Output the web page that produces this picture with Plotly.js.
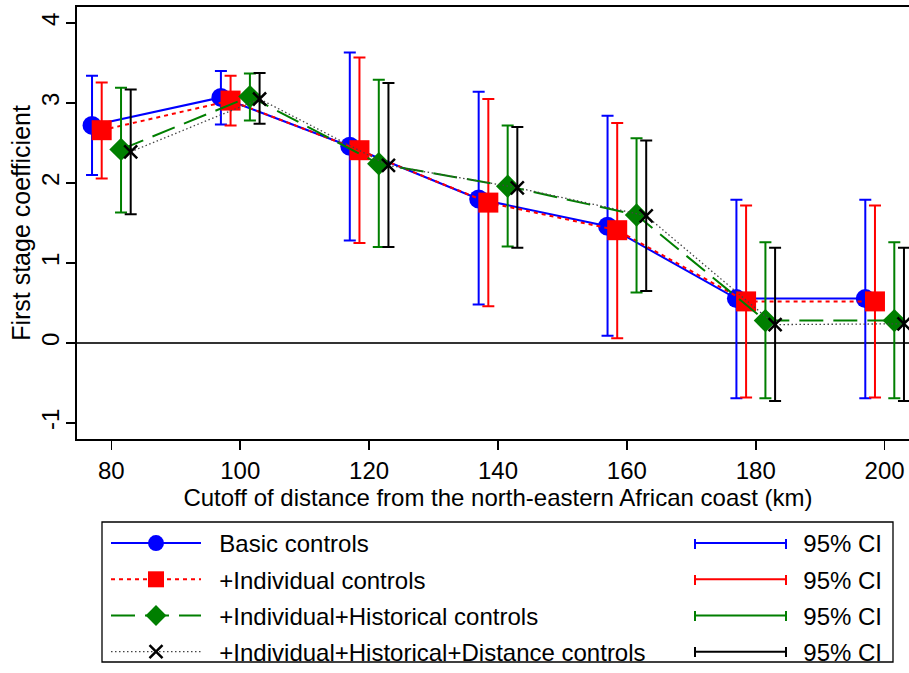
<!DOCTYPE html>
<html>
<head>
<meta charset="utf-8">
<script src="https://cdn.plot.ly/plotly-3.0.1.min.js"></script>
<style>
html, body { margin: 0; padding: 0; overflow: hidden; background: #fff; }
#chart { width: 935px; height: 673px; }
</style>
</head>
<body>
<div id="chart"></div>
<script>
// ---- data ----
const cutoffs = [80, 100, 120, 140, 160, 180, 200];
const tickLabels = ['80', '100', '120', '140', '160', '180', '200'];

const basicCoef = [2.72, 3.07, 2.46, 1.80, 1.46, 0.555, 0.555];
const basicLo   = [2.10, 2.73, 1.28, 0.48, 0.09, -0.69, -0.69];
const basicHi   = [3.34, 3.40, 3.63, 3.14, 2.84, 1.79, 1.79];

const indivCoef = [2.66, 3.03, 2.41, 1.755, 1.41, 0.52, 0.52];
const indivLo   = [2.055, 2.72, 1.25, 0.46, 0.06, -0.68, -0.68];
const indivHi   = [3.255, 3.34, 3.57, 3.05, 2.75, 1.72, 1.72];

const histCoef  = [2.42, 3.08, 2.24, 1.96, 1.60, 0.28, 0.28];
const histLo    = [1.63, 2.78, 1.20, 1.205, 0.63, -0.69, -0.69];
const histHi    = [3.19, 3.37, 3.29, 2.72, 2.56, 1.26, 1.26];

const distCoef  = [2.39, 3.05, 2.22, 1.94, 1.59, 0.23, 0.24];
const distLo    = [1.61, 2.74, 1.20, 1.19, 0.65, -0.725, -0.725];
const distHi    = [3.17, 3.375, 3.25, 2.70, 2.53, 1.19, 1.19];

const seriesNames = [
  'Basic controls',
  '+Individual controls',
  '+Individual+Historical controls',
  '+Individual+Historical+Distance controls'
];
const ciLabel = '95% CI';

// ---- styling ----
const FONT = "'Liberation Sans', Arial, Helvetica, sans-serif";
const W = 935, H = 673;
const GAP = '\u00a0\u00a0';
const offsets = [-3, -1.5, 1.5, 3];
const colors = ['#0000ff', '#ff0000', '#007f00', '#000000'];
const lineStyles = [
  {color: '#0000ff', width: 2, dash: 'solid'},
  {color: '#ff0000', width: 2, dash: '4px,4px'},
  {color: '#007f00', width: 2, dash: '24px,10px'},
  {color: '#444444', width: 1.3, dash: '1.5px,2.5px'}
];
const markers = [
  {symbol: 'circle', size: 19, color: '#0000ff'},
  {symbol: 'square', size: 20, color: '#ff0000'},
  {symbol: 'diamond', size: 18, color: '#007f00'},
  {symbol: 'x-thin', size: 13, color: '#000000', line: {color: '#000000', width: 2.5}}
];

const coefs = [basicCoef, indivCoef, histCoef, distCoef];
const los = [basicLo, indivLo, histLo, distLo];
const his = [basicHi, indivHi, histHi, distHi];

const traces = [];
for (let s = 0; s < 4; s++) {
  const xs = cutoffs.map(c => c + offsets[s]);
  traces.push({
    type: 'scatter', mode: 'lines+markers',
    x: xs, y: coefs[s],
    name: GAP + seriesNames[s],
    legend: 'legend', legendgroup: 'm' + s,
    line: lineStyles[s],
    marker: markers[s],
    error_y: {
      type: 'data', symmetric: false,
      array: his[s].map((h, i) => h - coefs[s][i]),
      arrayminus: los[s].map((l, i) => coefs[s][i] - l),
      color: colors[s], thickness: 2, width: 6
    },
    cliponaxis: true
  });
}
// legend-only entries for the confidence intervals
for (let s = 0; s < 4; s++) {
  traces.push({
    type: 'scatter', mode: 'lines',
    x: [null], y: [null],
    name: GAP + ciLabel,
    legend: 'legend2', legendgroup: 'c' + s,
    line: {color: colors[s], width: 2},
    hoverinfo: 'skip'
  });
}

const plotL = 77, plotR = 919, plotT = 7, plotB = 439;
const pw = plotR - plotL, ph = plotB - plotT;
const boxL = 102, boxR = 893, boxT = 522, boxB = 662;
const legTop = 521;
const rowY0 = 544, rowStep = 36;   // legend row centres (px)
const capX = [695, 786];           // CI legend cap positions (px)

const px2x = p => (p - plotL) / pw;
const px2y = p => (plotB - p) / ph;

const shapes = [{
  type: 'rect', xref: 'paper', yref: 'paper',
  x0: px2x(boxL), x1: px2x(boxR), y0: px2y(boxB), y1: px2y(boxT),
  line: {color: '#000', width: 1.3}, fillcolor: 'rgba(0,0,0,0)', layer: 'below'
}];
for (let s = 0; s < 4; s++) {
  const yc = rowY0 + rowStep * s;
  capX.forEach(cx => shapes.push({
    type: 'line', xref: 'paper', yref: 'paper',
    x0: px2x(cx), x1: px2x(cx), y0: px2y(yc - 5), y1: px2y(yc + 5),
    line: {color: colors[s], width: 2}
  }));
}

const layout = {
  width: W, height: H,
  margin: {l: plotL, r: W - plotR, t: plotT, b: H - plotB, pad: 0, autoexpand: false},
  paper_bgcolor: '#ffffff', plot_bgcolor: '#ffffff',
  font: {family: FONT, color: '#000000', size: 24},
  showlegend: true,
  xaxis: {
    range: [74.667, 205.333],
    tickmode: 'array', tickvals: cutoffs, ticktext: tickLabels,
    ticks: 'outside', ticklen: 9, tickwidth: 1.5, tickcolor: '#000',
    showline: true, linecolor: '#000', linewidth: 2, mirror: true,
    showgrid: false, zeroline: false,
    tickfont: {family: FONT, size: 24},
    title: {text: 'Cutoff of distance from the north-eastern African coast (km)', font: {family: FONT, size: 24}, standoff: 1},
    automargin: false
  },
  yaxis: {
    range: [-1.2, 4.2],
    tickmode: 'array', tickvals: [-1, 0, 1, 2, 3, 4], ticktext: ['-1', '0', '1', '2', '3', '4'],
    tickangle: -90,
    ticks: 'outside', ticklen: 9, tickwidth: 1.5, tickcolor: '#000',
    ticklabelstandoff: -3,
    showline: true, linecolor: '#000', linewidth: 2, mirror: true,
    showgrid: false,
    zeroline: true, zerolinecolor: '#333333', zerolinewidth: 1.5,
    tickfont: {family: FONT, size: 24},
    title: {text: 'First stage coefficient', font: {family: FONT, size: 25}, standoff: 0},
    automargin: false
  },
  legend: {
    xref: 'paper', yref: 'paper',
    x: px2x(106), y: px2y(legTop), xanchor: 'left', yanchor: 'top',
    bgcolor: 'rgba(0,0,0,0)', borderwidth: 0,
    font: {family: FONT, size: 24},
    itemwidth: 90, itemsizing: 'trace',
    traceorder: 'grouped', tracegroupgap: 2
  },
  legend2: {
    xref: 'paper', yref: 'paper',
    x: px2x(689), y: px2y(legTop), xanchor: 'left', yanchor: 'top',
    bgcolor: 'rgba(0,0,0,0)', borderwidth: 0,
    font: {family: FONT, size: 24},
    itemwidth: 91,
    traceorder: 'grouped', tracegroupgap: 2
  },
  shapes: shapes
};

Plotly.newPlot('chart', traces, layout, {displayModeBar: false, staticPlot: true});
</script>
</body>
</html>
